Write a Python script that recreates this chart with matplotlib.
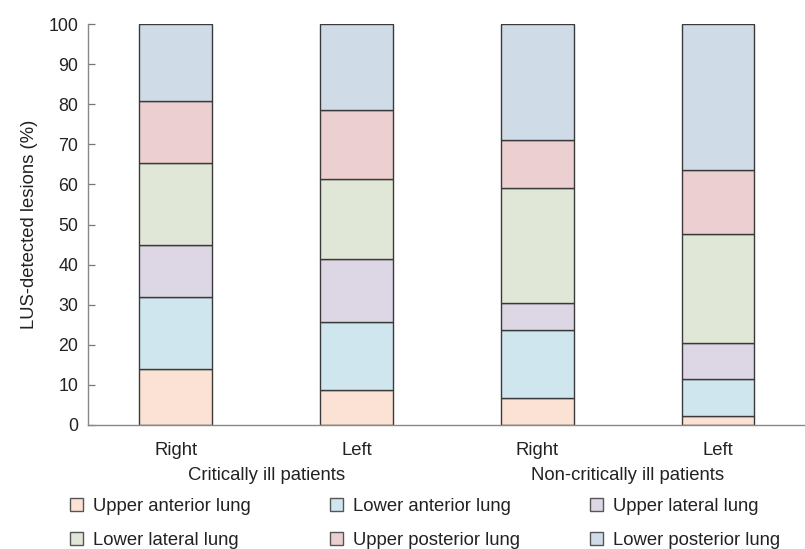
import matplotlib
matplotlib.use("Agg")
import matplotlib.pyplot as plt
from matplotlib.patches import Patch
import numpy as np

plt.rcParams['font.family'] = ['Liberation Sans', 'DejaVu Sans']

bar_labels = ["Right", "Left", "Right", "Left"]
group_labels = ["Critically ill patients", "Non-critically ill patients"]
series_names = ["Upper anterior lung", "Lower anterior lung", "Upper lateral lung",
                "Lower lateral lung", "Upper posterior lung", "Lower posterior lung"]
upper_anterior = [14.0, 8.6, 6.7, 2.2]
lower_anterior = [18.0, 17.1, 16.9, 9.2]
upper_lateral = [12.8, 15.7, 6.9, 9.0]
lower_lateral = [20.6, 20.0, 28.7, 27.3]
upper_posterior = [15.4, 17.2, 11.9, 15.8]
lower_posterior = [19.2, 21.4, 28.9, 36.5]
series_values = [upper_anterior, lower_anterior, upper_lateral,
                 lower_lateral, upper_posterior, lower_posterior]
colors = ["#FBE2D4", "#CFE6EE", "#DCD6E5", "#E1E7D6", "#ECCFD0", "#CFDCE8"]

FS = 13.3

fig = plt.figure(figsize=(8.05, 5.49), dpi=100)
ax = fig.add_axes([0.109, 0.226, 0.891, 0.730])

x = np.arange(len(bar_labels))
bottom = np.zeros(len(bar_labels))
handles = []
for name, vals, c in zip(series_names, series_values, colors):
    ax.bar(x, vals, width=0.40, bottom=bottom, color=c, edgecolor="#3a3a3a",
           linewidth=1.0, label=name, zorder=2)
    bottom += np.array(vals)
    handles.append(Patch(facecolor=c, edgecolor="#555555", linewidth=1.0, label=name))

ax.set_xlim(-0.486, 3.48)
ax.set_ylim(0, 100)
ax.set_yticks(np.arange(0, 101, 10))
ax.set_xticks(x)
ax.set_xticklabels(bar_labels)
ax.tick_params(axis='x', length=0, pad=12, labelsize=FS, colors="#222222")
ax.tick_params(axis='y', length=5, width=0.9, direction='in', labelsize=12.8,
               colors="#777777", labelcolor="#222222", pad=7)
for s in ["top", "right"]:
    ax.spines[s].set_visible(False)
for s in ["left", "bottom"]:
    ax.spines[s].set_color("#888888")
    ax.spines[s].set_linewidth(1.0)
ax.set_ylabel("LUS-detected lesions (%)", fontsize=FS, color="#222222", labelpad=7)

# group labels
for gi, g in enumerate(group_labels):
    cx = (x[2 * gi] + x[2 * gi + 1]) / 2
    ax.text(cx, -0.125, g, transform=ax.get_xaxis_transform(), ha='center', va='center',
            fontsize=FS, color="#222222")

# legend: three columns, two rows
col_x = [0.087, 0.41, 0.733]
for ci in range(3):
    hs = [handles[ci], handles[ci + 3]]
    fig.legend(handles=hs, loc='upper left', bbox_to_anchor=(col_x[ci], 0.093),
               frameon=False, ncol=1, fontsize=FS, handlelength=0.68, handleheight=0.68,
               handletextpad=0.55, labelspacing=0.92, borderpad=0, borderaxespad=0,
               labelcolor="#222222")

fig.savefig("out.png", dpi=100)
